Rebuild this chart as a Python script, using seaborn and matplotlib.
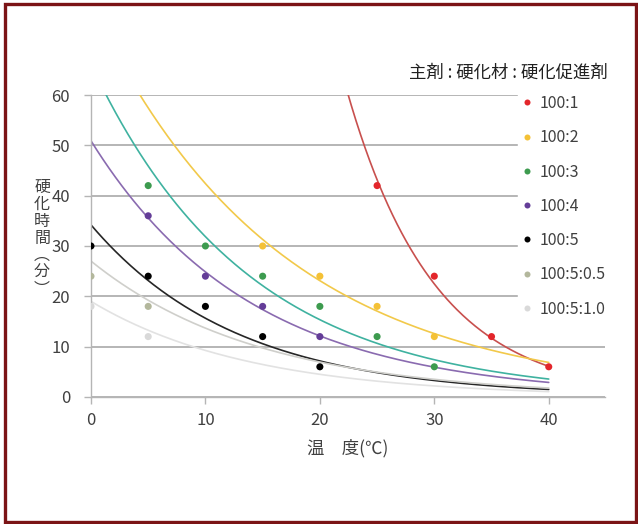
import numpy as np
import pandas as pd
import seaborn as sns
import matplotlib.pyplot as plt
from matplotlib.patches import Rectangle

# mixing ratios (main agent : hardener : accelerator)
ratios = ["100:1", "100:2", "100:3", "100:4", "100:5", "100:5:0.5", "100:5:1.0"]

temp_1 = [25, 30, 35, 40]
time_1 = [42, 24, 12, 6]
temp_2 = [15, 20, 25, 30]
time_2 = [30, 24, 18, 12]
temp_3 = [5, 10, 15, 20, 25, 30]
time_3 = [42, 30, 24, 18, 12, 6]
temp_4 = [5, 10, 15, 20]
time_4 = [36, 24, 18, 12]
temp_5 = [0, 5, 10, 15, 20]
time_5 = [30, 24, 18, 12, 6]
temp_6 = [0, 5]
time_6 = [24, 18]
temp_7 = [0, 5]
time_7 = [18, 12]

# exponential trend lines  y = a * exp(b * x)
trend_a = [1130, 77.8, 66.1, 50.9, 34.2, 27.0, 19.0]
trend_b = [-0.1306, -0.0607, -0.073, -0.0717, -0.0782, -0.068, -0.072]

point_colors = ["#e3262b", "#f4c136", "#3d9b4f", "#643d98", "#000000", "#b3b79c", "#d9d9d9"]
line_colors = ["#c8504e", "#f2c94a", "#3fb2a0", "#8a6bb0", "#262626", "#cfcfcb", "#e2e2e2"]

temps = [temp_1, temp_2, temp_3, temp_4, temp_5, temp_6, temp_7]
times = [time_1, time_2, time_3, time_4, time_5, time_6, time_7]

pts = pd.concat(
    [pd.DataFrame({"temp": t, "time": v, "ratio": r}) for t, v, r in zip(temps, times, ratios)],
    ignore_index=True,
)

xs = np.linspace(0, 40, 300)
curves = pd.concat(
    [pd.DataFrame({"temp": xs, "time": a * np.exp(b * xs), "ratio": r})
     for a, b, r in zip(trend_a, trend_b, ratios)],
    ignore_index=True,
)

sns.set_style("white")
plt.rcParams["font.family"] = ["Noto Sans CJK JP", "DejaVu Sans"]

fig = plt.figure(figsize=(6.38, 5.24), dpi=100)
ax = fig.add_axes([0.1426, 0.2424, 0.948 - 0.1426, 0.8187 - 0.2424])

sns.lineplot(data=curves, x="temp", y="time", hue="ratio", hue_order=ratios,
             palette=line_colors, linewidth=1.2, legend=False, ax=ax)
sns.scatterplot(data=pts, x="temp", y="time", hue="ratio", hue_order=ratios,
                palette=point_colors, s=26, linewidth=0, zorder=5, ax=ax)

ax.set_xlim(0, 44.9)
ax.set_ylim(0, 60)
ax.set_xticks([0, 10, 20, 30, 40])
ax.set_yticks(range(0, 61, 10))
ax.grid(axis="y", color="#b5b5b5", linewidth=1.4)
ax.set_axisbelow(True)
for side in ["top", "right"]:
    ax.spines[side].set_visible(False)
for side in ["left", "bottom"]:
    ax.spines[side].set_color("#b5b5b5")
    ax.spines[side].set_linewidth(1.0)
ax.tick_params(axis="both", colors="#b5b5b5", labelcolor="#404040", labelsize=12,
               length=5, width=1.0, direction="out", left=True, bottom=True)
ax.tick_params(axis="x", pad=6)
ax.tick_params(axis="y", pad=10)

ax.set_xlabel("温　度(℃)", fontsize=12.5, color="#404040", labelpad=7)
ax.set_ylabel("")
fig.text(0.066, 0.545, "硬\n化\n時\n間\n︵\n分\n︶", fontsize=11.5, color="#404040",
         ha="center", va="center", linespacing=1.0)

sns.move_legend(ax, "upper left", bbox_to_anchor=(0.799, 0.840),
                bbox_transform=fig.transFigure, frameon=True, facecolor="white",
                edgecolor="white", framealpha=1, title=None, fontsize=11.5,
                labelspacing=1.08, handlelength=0.8, handletextpad=0.4,
                markerscale=0.85, borderpad=0.2)
for txt in ax.get_legend().get_texts():
    txt.set_color("#404040")

fig.text(0.952, 0.862, "主剤 : 硬化材 : 硬化促進剤", fontsize=12.5, color="#202020",
         ha="right", va="center")

fig.patches.append(Rectangle((5 / 638, 2.5 / 524), 631 / 638, 518 / 524,
                             transform=fig.transFigure, fill=False,
                             edgecolor="#7b1416", linewidth=2.4))

fig.savefig("out.png", dpi=100)
